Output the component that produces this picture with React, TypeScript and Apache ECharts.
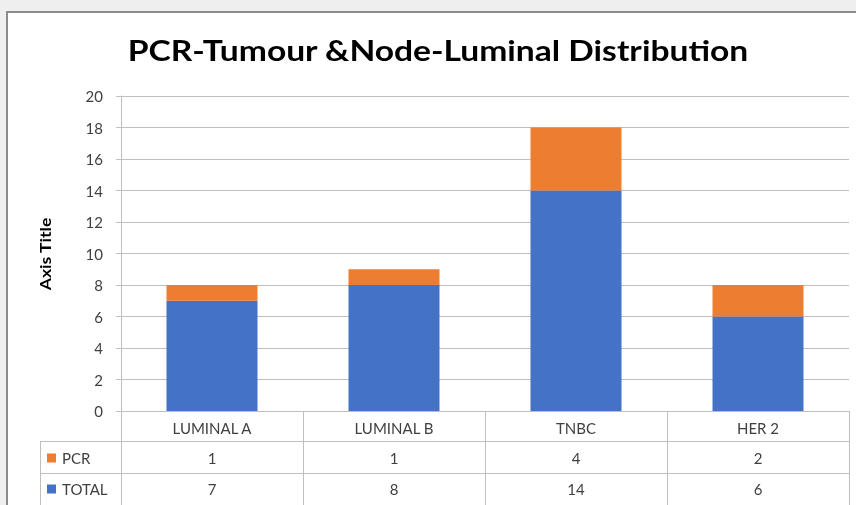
import React, { useEffect, useRef } from "react";
import * as echarts from "echarts";

const categories = ["LUMINAL A", "LUMINAL B", "TNBC", "HER 2"];
const totalValues = [7, 8, 14, 6];
const pcrValues = [1, 1, 4, 2];
const seriesNames = ["PCR", "TOTAL"];
const titleText = "PCR-Tumour &Node-Luminal Distribution";
const yAxisTitle = "Axis Title";

const W = 856;
const H = 505;
const GL = 121;
const GR = 849;
const GT = 96;
const GB = 411;
const BLUE = "#4472C4";
const ORANGE = "#ED7D31";
const LINE = "#bfbfbf";
const FONT = "Lato, 'Open Sans', sans-serif";

export default function App() {
  const ref = useRef<HTMLDivElement>(null);
  useEffect(() => {
    if (!ref.current) return;
    const chart = echarts.init(ref.current, null, { renderer: "svg" });
    const colW = (GR - GL) / categories.length;
    const rowBottom = 505;
    const g: any[] = [];
    g.push({ type: "rect", shape: { x: 0, y: 0, width: W, height: H }, style: { fill: "#efefef" }, z: -10, silent: true });
    g.push({ type: "rect", shape: { x: 7, y: 12, width: 860, height: 500 }, style: { fill: "#ffffff", stroke: "#8c8c8c", lineWidth: 2 }, z: -9, silent: true });
    g.push({
      type: "text",
      x: 438,
      y: 50,
      scaleX: 1.2,
      style: { x: 0, y: 0, text: titleText, fill: "#000000", font: `bold 28px ${FONT}`, align: "center", verticalAlign: "middle" },
      silent: true,
    });
    g.push({
      type: "text",
      x: 45,
      y: 254,
      rotation: Math.PI / 2,
      scaleX: 1.1,
      style: { x: 0, y: 0, text: yAxisTitle, fill: "#000000", font: `bold 16px ${FONT}`, align: "center", verticalAlign: "middle" },
      silent: true,
    });
    const hl = (y: number, x1: number, x2: number) =>
      g.push({ type: "line", shape: { x1, y1: y, x2, y2: y }, style: { stroke: LINE, lineWidth: 1 }, silent: true });
    const vl = (x: number, y1: number, y2: number) =>
      g.push({ type: "line", shape: { x1: x, y1, x2: x, y2 }, style: { stroke: LINE, lineWidth: 1 }, silent: true });
    hl(441.5, 40, GR + 0.5);
    hl(473.5, 40, GR + 0.5);
    vl(40.5, 441, rowBottom);
    vl(GL + 0.5, GB, rowBottom);
    for (let i = 1; i <= categories.length; i++) vl(Math.round(GL + colW * i) + 0.5, GB, rowBottom);
    const rows = [pcrValues, totalValues];
    const colors = [ORANGE, BLUE];
    rows.forEach((vals, r) => {
      const cy = r === 0 ? 458 : 489;
      g.push({ type: "rect", shape: { x: 47, y: cy - 4.5, width: 9, height: 9 }, style: { fill: colors[r] }, silent: true });
      g.push({
        type: "text",
        style: { x: 62, y: cy, text: seriesNames[r], fill: "#404040", font: `15px ${FONT}`, verticalAlign: "middle", align: "left" },
        silent: true,
      });
      vals.forEach((v, i) => {
        g.push({
          type: "text",
          style: { x: GL + colW * (i + 0.5), y: cy, text: String(v), fill: "#404040", font: `15px ${FONT}`, align: "center", verticalAlign: "middle" },
          silent: true,
        });
      });
    });
    chart.setOption({
      animation: false,
      grid: { left: GL, right: W - GR, top: GT, bottom: H - GB, containLabel: false },
      xAxis: {
        type: "category",
        data: categories,
        axisLine: { lineStyle: { color: LINE } },
        axisTick: { show: true, length: 30, lineStyle: { color: LINE }, alignWithLabel: false },
        axisLabel: { color: "#404040", fontFamily: FONT, fontSize: 15, margin: 9 },
      },
      yAxis: {
        type: "value",
        min: 0,
        max: 20,
        interval: 2,
        axisLine: { show: true, lineStyle: { color: LINE } },
        axisTick: { show: true, length: 5, inside: false, lineStyle: { color: LINE } },
        axisLabel: { color: "#404040", fontFamily: FONT, fontSize: 15, margin: 18 },
        splitLine: { lineStyle: { color: LINE } },
      },
      series: [
        { name: "TOTAL", type: "bar", stack: "s", data: totalValues, barWidth: "50%", itemStyle: { color: BLUE } },
        { name: "PCR", type: "bar", stack: "s", data: pcrValues, barWidth: "50%", itemStyle: { color: ORANGE } },
      ],
      graphic: g,
    });
    return () => chart.dispose();
  }, []);
  return <div ref={ref} style={{ position: "fixed", left: 0, top: 0, width: W, height: H }} />;
}
